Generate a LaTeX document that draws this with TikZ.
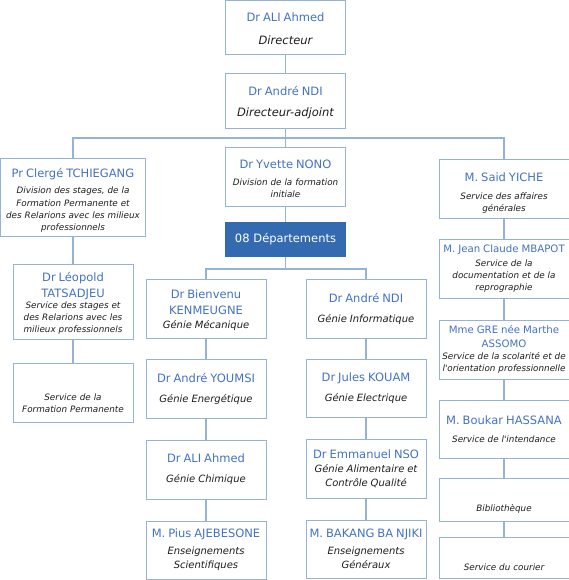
\documentclass[tikz,border=0pt]{standalone}
\usepackage{fontspec}
\setmainfont{DejaVu Sans}
\setlength\parindent{0pt}
\definecolor{boxline}{RGB}{149,179,215}
\definecolor{nameblue}{RGB}{68,114,196}
\definecolor{deptblue}{RGB}{52,106,175}
\definecolor{desctext}{RGB}{30,30,30}
\newcommand\nm[1]{{\color{nameblue}\upshape\fontsize{11.5}{16}\selectfont #1\par}}
\newcommand\nmsm[1]{{\color{nameblue}\upshape\fontsize{10.2}{13.5}\selectfont #1\par}}
\newcommand\rl[1]{{\fontsize{11.5}{15}\selectfont #1\par}}
\newcommand\dep[1]{{\fontsize{10}{14}\selectfont #1\par}}

\begin{document}
\begin{tikzpicture}[x=1pt, y=-1pt,
    box/.style={draw=boxline, line width=1pt, fill=white, inner sep=1pt,
      minimum width=120, text width=118, align=center, text=desctext,
      font=\fontsize{8.8}{12.2}\selectfont\itshape},
    wide/.style={box, minimum width=129, text width=128},
    link/.style={draw=boxline, line width=1.2pt}]
    \useasboundingbox (0,0) rectangle (569,580);

    \node[box, minimum height=54] (dir) at (285.5,27.5) {\nm{Dr ALI Ahmed}\vspace{8pt}\rl{Directeur}\vspace{-2pt}};
    \node[box, minimum height=55] (adj) at (285.5,101.5) {\nm{Dr André NDI}\vspace{6pt}\rl{Directeur-adjoint}\vspace{-3pt}};
    \node[box, minimum height=58] (nono) at (285.5,177) {\nm{Dr Yvette NONO}\vspace{5pt}Division de la formation\\initiale\vspace{-3pt}};
    \node[box, minimum height=34, fill=deptblue, draw=deptblue, text=white,
      font=\fontsize{11.5}{15}\selectfont] (dept) at (285.5,239) {08 Départements};

    \node[box, minimum width=145, text width=143, minimum height=77] (clerge) at (73,197.5)
      {\nm{Pr Clergé TCHIEGANG}\vspace{4pt}Division des stages, de la\\Formation Permanente et\\des Relarions avec les milieux\\professionnels\vspace{-6pt}};
    \node[box, minimum height=75] (leopold) at (73,301.5)
      {\nm{Dr Léopold\\TATSADJEU}\vspace{-2pt}Service des stages et\\des Relarions avec les\\milieux professionnels\vspace{-4pt}};
    \node[box, minimum height=59] (sfp) at (73,392.5) {\nm{\strut}\vspace{4pt}Service de la\\Formation Permanente};

    \node[box, minimum height=59] (bienvenu) at (206,308.5) {\nm{Dr Bienvenu\\KENMEUGNE}\dep{Génie Mécanique}\vspace{-4pt}};
    \node[box, minimum height=59] (youmsi) at (206,388.5) {\nm{Dr André YOUMSI}\vspace{6pt}\dep{Génie Energétique}};
    \node[box, minimum height=59] (chimique) at (206,469.5) {\nm{Dr ALI Ahmed}\vspace{6pt}\dep{Génie Chimique}};
    \node[box, minimum height=58] (pius) at (206,550) {\nm{M. Pius AJEBESONE}\vspace{3pt}\dep{Enseignements\\Scientifiques}};

    \node[box, minimum height=59] (ndi) at (366,308.5) {\nm{Dr André NDI}\vspace{6pt}\dep{Génie Informatique}};
    \node[box, minimum height=58] (kouam) at (366,388) {\nm{Dr Jules KOUAM}\vspace{6pt}\dep{Génie Electrique}};
    \node[box, minimum height=59] (nso) at (366,468.5) {\nm{Dr Emmanuel NSO}\dep{Génie Alimentaire et\\Contrôle Qualité}};
    \node[box, minimum height=58] (bakang) at (366,549) {\nm{M. BAKANG BA NJIKI}\vspace{3pt}\dep{Enseignements\\Généraux}};

    \node[wide, minimum height=58] (yiche) at (504,189) {\nm{M. Said YICHE}\vspace{6pt}Service des affaires\\générales\vspace{-8pt}};
    \node[wide, minimum height=59] (mbapot) at (504,268.5) {\nmsm{M. Jean Claude MBAPOT}\vspace{2pt}Service de la\\documentation et de la\\reprographie};
    \node[wide, minimum height=59] (gre) at (504,349.5) {\nmsm{Mme GRE née Marthe\\ASSOMO}Service de la scolarité et de\\l\textquotesingle orientation professionnelle};
    \node[wide, minimum height=58] (boukar) at (504,429) {\nm{M. Boukar HASSANA}\vspace{6pt}Service de l\textquotesingle intendance};
    \node[wide, minimum height=43] (biblio) at (504,499.5) {\nm{\strut}\vspace{3pt}Bibliothèque};
    \node[wide, minimum height=41] (courier) at (504,557.5) {\nm{\strut}\vspace{3pt}Service du courier};

    \coordinate (topbus) at (285.5,138);
    \coordinate (depbus) at (285.5,269);

    \draw[link] (dir) -- (adj) -- (nono) -- (dept) -- (depbus);
    \draw[link] (clerge) |- (topbus) -| (yiche);
    \draw[link] (bienvenu) |- (depbus) -| (ndi);
    \foreach \a/\b in {clerge/leopold, leopold/sfp, bienvenu/youmsi, youmsi/chimique,
      chimique/pius, ndi/kouam, kouam/nso, nso/bakang, yiche/mbapot, mbapot/gre,
      gre/boukar, boukar/biblio, biblio/courier}
      \draw[link] (\a) -- (\b);
\end{tikzpicture}
\end{document}
